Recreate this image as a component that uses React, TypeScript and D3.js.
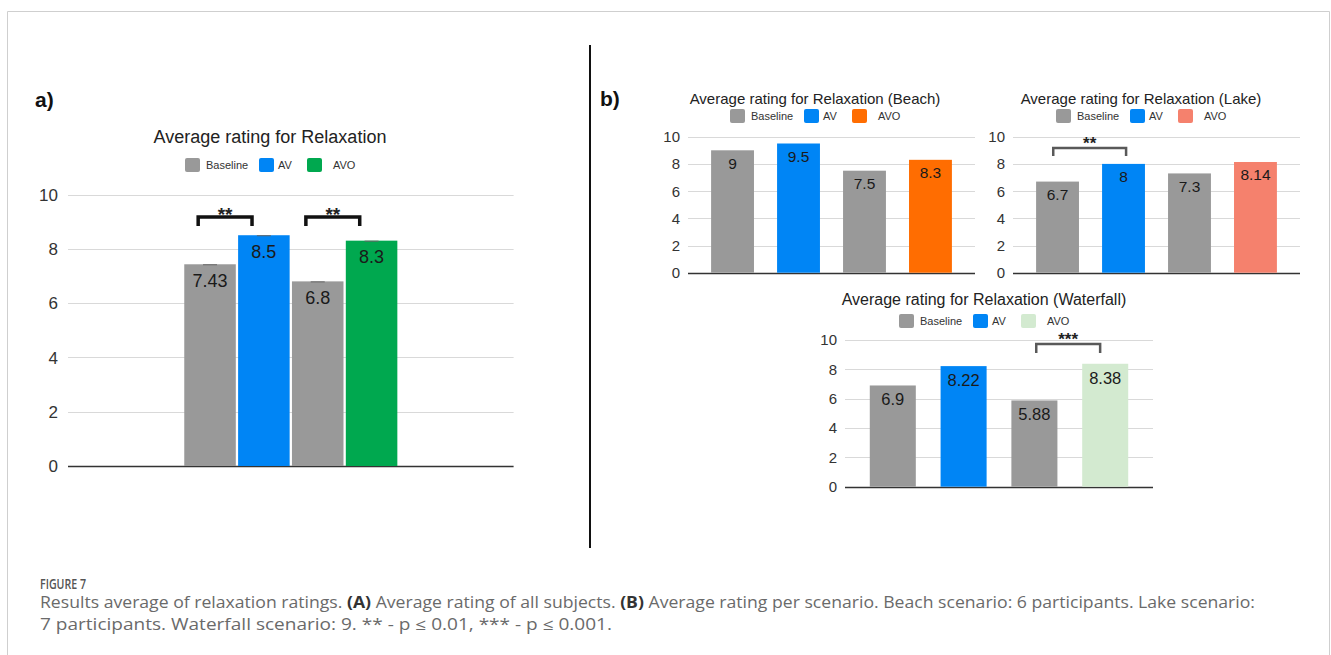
import React from "react";
import * as d3 from "d3";

// ---------------- data ----------------
const SERIES = ["Baseline", "AV", "AVO"];
const BAR_KEYS = ["Baseline (AV)", "AV", "Baseline (AVO)", "AVO"];
const BAR_SERIES = ["Baseline", "AV", "Baseline", "AVO"];
const ALL_VALUES = [7.43, 8.5, 6.8, 8.3];
const BEACH_VALUES = [9, 9.5, 7.5, 8.3];
const LAKE_VALUES = [6.7, 8, 7.3, 8.14];
const WATERFALL_VALUES = [6.9, 8.22, 5.88, 8.38];
const Y_TICKS = [0, 2, 4, 6, 8, 10];
const ALL_BRACKETS = [
  { from: 0, to: 1, label: "**" },
  { from: 2, to: 3, label: "**" },
];
const BEACH_BRACKETS: { from: number; to: number; label: string }[] = [];
const LAKE_BRACKETS = [{ from: 0, to: 1, label: "**" }];
const WATERFALL_BRACKETS = [{ from: 2, to: 3, label: "***" }];

const CAPTION_TITLE = "FIGURE 7";
const CAPTION_LINE2 =
  "7 participants. Waterfall scenario: 9. ** - p \u2264 0.01, *** - p \u2264 0.001.";

// ---------------- styles ----------------
const GRAY = "#999999";
const BLUE = "#0085f5";
const FONT = "'Liberation Sans', Arial, sans-serif";

type Bracket = { from: number; to: number; label: string };
type Cfg = {
  title: string;
  values: number[];
  avoColor: string;
  brackets: Bracket[];
  grouped: boolean;
  x0: number;
  x1: number;
  y0: number;
  y10: number;
  titleX: number;
  titleY: number;
  titleSize: number;
  legendY: number;
  tickSize: number;
  tickGap: number;
  valueSize: number;
  valueDy: number;
  bracketTop: number;
  bracketBottom: number;
  bracketFrac: [number, number];
  bracketColor: string;
  bracketWidth: number;
  starSize: number;
  starGap: number;
  errorCaps: boolean;
};

function Legend({ cx, top, avoColor }: { cx: number; top: number; avoColor: string }) {
  const colors = [GRAY, BLUE, avoColor];
  const swatchOff = [0, 74, 122];
  const textOff = [21, 93, 148];
  const start = cx - 86;
  return (
    <g>
      {SERIES.map((s, i) => (
        <g key={s}>
          <rect x={start + swatchOff[i]} y={top} width={15} height={14} rx={2} fill={colors[i]} />
          <text x={start + textOff[i]} y={top + 11} fontSize={11} fontFamily={FONT} fill="#333">
            {s}
          </text>
        </g>
      ))}
    </g>
  );
}

function Chart({ cfg }: { cfg: Cfg }) {
  const y = d3.scaleLinear().domain([0, 10]).range([cfg.y0, cfg.y10]);
  let xPos: (i: number) => number;
  let bw: number;
  if (cfg.grouped) {
    const outer = d3.scaleBand<string>().domain(["all"]).range([cfg.x0, cfg.x1]).padding(0.353);
    const inner = d3
      .scaleBand<string>()
      .domain(BAR_KEYS)
      .range([0, outer.bandwidth()])
      .paddingInner(0.043);
    xPos = (i) => (outer("all") as number) + (inner(BAR_KEYS[i]) as number);
    bw = inner.bandwidth();
  } else {
    const x = d3.scaleBand<string>().domain(BAR_KEYS).range([cfg.x0, cfg.x1]).padding(0.35);
    xPos = (i) => x(BAR_KEYS[i]) as number;
    bw = x.bandwidth();
  }
  const color = (i: number) =>
    BAR_SERIES[i] === "Baseline" ? GRAY : BAR_SERIES[i] === "AV" ? BLUE : cfg.avoColor;

  return (
    <g>
      <text
        x={cfg.titleX}
        y={cfg.titleY}
        textAnchor="middle"
        fontSize={cfg.titleSize}
        fontFamily={FONT}
        fill="#222"
      >
        {cfg.title}
      </text>
      <Legend cx={cfg.titleX + 1} top={cfg.legendY} avoColor={cfg.avoColor} />
      {Y_TICKS.map((t) => (
        <g key={t}>
          <line
            x1={cfg.x0}
            x2={cfg.x1}
            y1={Math.round(y(t)) + 0.5}
            y2={Math.round(y(t)) + 0.5}
            stroke={t === 0 ? "#333" : "#d9d9d9"}
            strokeWidth={t === 0 ? 1.3 : 1}
          />
          <text
            x={cfg.x0 - cfg.tickGap}
            y={y(t)}
            dy="0.36em"
            textAnchor="end"
            fontSize={cfg.tickSize}
            fontFamily={FONT}
            fill="#333"
          >
            {t}
          </text>
        </g>
      ))}
      {cfg.values.map((v, i) => (
        <g key={i}>
          <rect x={xPos(i)} y={y(v)} width={bw} height={y(0) - y(v)} fill={color(i)} />
          {cfg.errorCaps && (
            <line
              x1={xPos(i) + bw / 2 - 7}
              x2={xPos(i) + bw / 2 + 7}
              y1={y(v) + 0.5}
              y2={y(v) + 0.5}
              stroke="#666"
              strokeWidth={1}
            />
          )}
          <text
            x={xPos(i) + bw / 2}
            y={y(v) + cfg.valueDy}
            textAnchor="middle"
            fontSize={cfg.valueSize}
            fontFamily={FONT}
            fill="#1a1a1a"
          >
            {String(v)}
          </text>
        </g>
      ))}
      {cfg.brackets.map((b, k) => {
        const xl = xPos(b.from) + bw * cfg.bracketFrac[0];
        const xr = xPos(b.to) + bw * cfg.bracketFrac[1];
        const yt = y(cfg.bracketTop);
        const yb = y(cfg.bracketBottom);
        return (
          <g key={k}>
            <path
              d={`M${xl},${yb} V${yt} H${xr} V${yb}`}
              fill="none"
              stroke={cfg.bracketColor}
              strokeWidth={cfg.bracketWidth}
            />
            <text
              x={(xl + xr) / 2}
              y={yt - cfg.starGap + 0.58 * cfg.starSize}
              textAnchor="middle"
              fontSize={cfg.starSize}
              fontWeight="bold"
              fontFamily={FONT}
              fill="#222"
            >
              {b.label}
            </text>
          </g>
        );
      })}
    </g>
  );
}

const PANEL_A: Cfg = {
  title: "Average rating for Relaxation",
  values: ALL_VALUES,
  avoColor: "#00a84f",
  brackets: ALL_BRACKETS,
  grouped: true,
  x0: 68,
  x1: 513.6,
  y0: 466,
  y10: 194.5,
  titleX: 270,
  titleY: 143,
  titleSize: 18,
  legendY: 158,
  tickSize: 17,
  tickGap: 10,
  valueSize: 18,
  valueDy: 22.5,
  bracketTop: 9.17,
  bracketBottom: 8.84,
  bracketFrac: [0.27, 0.27],
  bracketColor: "#111",
  bracketWidth: 3.5,
  starSize: 19,
  starGap: 7,
  errorCaps: true,
};

const BEACH: Cfg = {
  title: "Average rating for Relaxation (Beach)",
  values: BEACH_VALUES,
  avoColor: "#ff6d01",
  brackets: BEACH_BRACKETS,
  grouped: false,
  x0: 688,
  x1: 975,
  y0: 272.7,
  y10: 136.7,
  titleX: 815,
  titleY: 103.5,
  titleSize: 15,
  legendY: 109,
  tickSize: 15,
  tickGap: 8,
  valueSize: 15.5,
  valueDy: 18.5,
  bracketTop: 9.17,
  bracketBottom: 8.58,
  bracketFrac: [0.4, 0.56],
  bracketColor: "#595959",
  bracketWidth: 2.5,
  starSize: 17,
  starGap: 9,
  errorCaps: false,
};

const LAKE: Cfg = {
  ...BEACH,
  title: "Average rating for Relaxation (Lake)",
  values: LAKE_VALUES,
  avoColor: "#f5816d",
  brackets: LAKE_BRACKETS,
  x0: 1013,
  x1: 1300,
  titleX: 1141,
};

const WATERFALL: Cfg = {
  ...BEACH,
  title: "Average rating for Relaxation (Waterfall)",
  values: WATERFALL_VALUES,
  avoColor: "#d3ead0",
  brackets: WATERFALL_BRACKETS,
  x0: 845,
  x1: 1153,
  y0: 486.7,
  y10: 340,
  titleX: 984,
  titleY: 305,
  titleSize: 16,
  legendY: 314,
  valueSize: 16.5,
  valueDy: 20,
  bracketTop: 9.73,
  bracketBottom: 9.11,
  bracketFrac: [0.54, 0.39],
};

export default function App() {
  return (
    <svg
      width={1331}
      height={655}
      style={{ position: "absolute", left: 0, top: 0, display: "block", background: "#fff" }}
    >
      <rect x={0} y={0} width={1331} height={655} fill="#fff" />
      <path d="M7.5,660 V11.5 H1329.5 V660" fill="none" stroke="#cfcfcf" strokeWidth={1} />
      <line x1={590} x2={590} y1={45} y2={548} stroke="#111" strokeWidth={2} />
      <text x={35} y={107} fontSize={21} fontWeight="bold" fontFamily={FONT} fill="#111">
        a)
      </text>
      <text x={600} y={106} fontSize={21} fontWeight="bold" fontFamily={FONT} fill="#111">
        b)
      </text>
      <Chart cfg={PANEL_A} />
      <Chart cfg={BEACH} />
      <Chart cfg={LAKE} />
      <Chart cfg={WATERFALL} />
      <text
        x={40}
        y={589}
        fontSize={14}
        fontWeight={600}
        fontFamily="'Open Sans', sans-serif"
        fill="#555"
        textLength={46}
        lengthAdjust="spacingAndGlyphs"
      >
        {CAPTION_TITLE}
      </text>
      <text
        x={40}
        y={607.5}
        fontSize={15.5}
        fontFamily="'Open Sans', sans-serif"
        fill="#6a6a6a"
        textLength={1215}
        lengthAdjust="spacingAndGlyphs"
      >
        Results average of relaxation ratings.{" "}
        <tspan fontWeight={700} fill="#333">
          (A)
        </tspan>{" "}
        Average rating of all subjects.{" "}
        <tspan fontWeight={700} fill="#333">
          (B)
        </tspan>{" "}
        Average rating per scenario. Beach scenario: 6 participants. Lake scenario:
      </text>
      <text
        x={40}
        y={630}
        fontSize={15.5}
        fontFamily="'Open Sans', sans-serif"
        fill="#6a6a6a"
        textLength={572}
        lengthAdjust="spacingAndGlyphs"
      >
        {CAPTION_LINE2}
      </text>
    </svg>
  );
}
